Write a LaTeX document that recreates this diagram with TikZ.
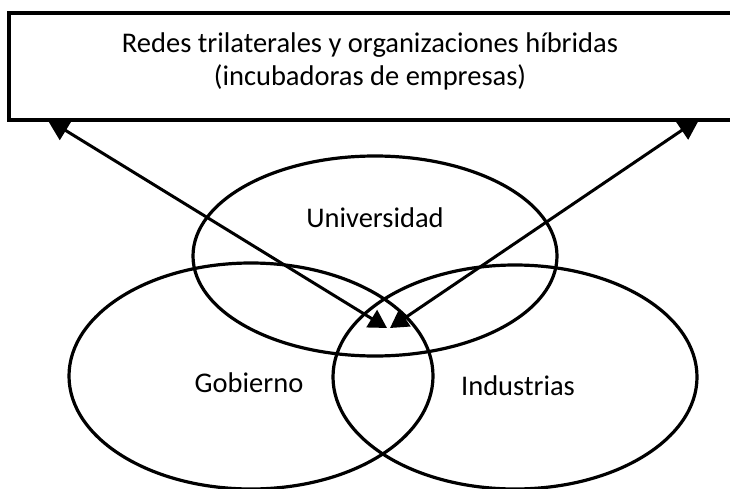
\documentclass[tikz,border=0pt]{standalone}
\usepackage{fontspec}
\setmainfont{Carlito}
\usetikzlibrary{shapes.geometric,arrows.meta}
\begin{document}
\begin{tikzpicture}
		[x=1pt, y=-1pt,
		sector/.style={
			ellipse,
			draw,
			line width=3.2pt,
			minimum width=364pt
		},
		sectorname/.style={font=\fontsize{28.5}{33}\selectfont, inner sep=0pt},
		link/.style={line width=3pt, {Triangle[length=22pt,width=22pt]}-{Triangle[length=18pt,width=20pt]}},
		redbox/.style={rectangle,draw,fill=white,line width=3.4pt,minimum width=740pt, minimum height=107pt}]
		\useasboundingbox (0,0) rectangle (730,489);
		% las tres esferas
		\node[sector, minimum height=200pt] (uni) at (375,256) {};
		\node[sector, minimum height=226pt] (gob) at (251,376) {};
		\node[sector, minimum height=224pt] (ind) at (515,377) {};
		\node[sectorname] (unitxt) at (375,218) {Universidad};
		\node[sectorname] (gobtxt) at (249,383) {Gobierno};
		\node[sectorname] (indtxt) at (518,386) {Industrias};
		% flechas hacia las redes
		\coordinate (hubL) at (387,328);
		\coordinate (hubR) at (390,328);
		\coordinate (redesL) at (47,119);
		\coordinate (redesR) at (700,118);
		\draw[link] (redesL) -- (hubL);
		\draw[link] (redesR) -- (hubR);
		% caja superior
		\node[redbox] (redes) at (379,66.5) {};
		\node[sectorname, align=center] (redestxt) at (370,61) {Redes trilaterales y organizaciones híbridas\\(incubadoras de empresas)};
\end{tikzpicture}
\end{document}
